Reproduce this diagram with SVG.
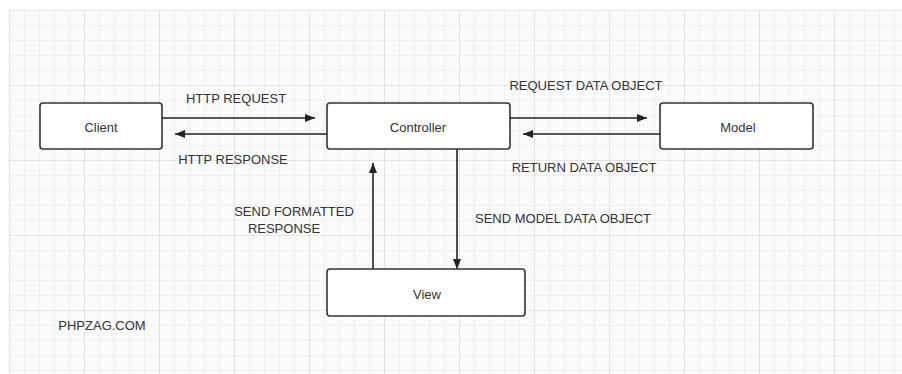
<svg xmlns="http://www.w3.org/2000/svg" width="902" height="374" viewBox="0 0 902 374">
<defs>
<pattern id="minor" x="9" y="10" width="15" height="15" patternUnits="userSpaceOnUse">
<path d="M0 0H15M0 0V15" fill="none" stroke="#e6e6e6" stroke-width="1"/>
</pattern>
<pattern id="major" x="9" y="10" width="75" height="75" patternUnits="userSpaceOnUse">
<path d="M0 0H75M0 0V75" fill="none" stroke="#d9d9d9" stroke-width="1.2"/>
</pattern>
<marker id="arr" viewBox="0 0 10 8" refX="10" refY="4" markerWidth="10" markerHeight="8" markerUnits="userSpaceOnUse" orient="auto">
<path d="M0 0L10 4L0 8Z" fill="#222"/>
</marker>
</defs>
<style>
.box{fill:#fff;stroke:#333;stroke-width:1.6}
.lbl{font-family:"Liberation Sans",Arial,sans-serif;font-size:13px;fill:#333;text-anchor:middle}
.edge{stroke:#222;stroke-width:1.6;fill:none;marker-end:url(#arr)}
</style>
<rect width="902" height="374" fill="#fff"/>
<rect x="9" y="10" width="893" height="364" fill="#fbfbfb"/>
<rect x="9" y="10" width="893" height="364" fill="url(#minor)"/>
<rect x="9" y="10" width="893" height="364" fill="url(#major)"/>
<g id="connectors">
<line class="edge" x1="162" y1="118" x2="315" y2="118"/>
<line class="edge" x1="327" y1="134" x2="175" y2="134"/>
<line class="edge" x1="510" y1="118" x2="647" y2="118"/>
<line class="edge" x1="660" y1="134" x2="523" y2="134"/>
<line class="edge" x1="373" y1="269" x2="373" y2="163"/>
<line class="edge" x1="457" y1="149" x2="457" y2="269"/>
</g>
<g id="client">
<rect class="box" x="40" y="103" width="122" height="46" rx="3"/>
<text class="lbl" x="101" y="132">Client</text>
</g>
<g id="controller">
<rect class="box" x="327" y="103" width="183" height="46" rx="3"/>
<text class="lbl" x="418" y="132">Controller</text>
</g>
<g id="model">
<rect class="box" x="660" y="103" width="153" height="46" rx="3"/>
<text class="lbl" x="738" y="132">Model</text>
</g>
<g id="view">
<rect class="box" x="327" y="269" width="198" height="47" rx="3"/>
<text class="lbl" x="427" y="299">View</text>
</g>
<g id="labels">
<text class="lbl" x="236" y="103">HTTP REQUEST</text>
<text class="lbl" x="233" y="164">HTTP RESPONSE</text>
<text class="lbl" x="586" y="90">REQUEST DATA OBJECT</text>
<text class="lbl" x="584" y="172">RETURN DATA OBJECT</text>
<text class="lbl" x="294" y="216">SEND FORMATTED</text>
<text class="lbl" x="284" y="233">RESPONSE</text>
<text class="lbl" x="563" y="223">SEND MODEL DATA OBJECT</text>
<text class="lbl" x="102" y="330">PHPZAG.COM</text>
</g>
</svg>
